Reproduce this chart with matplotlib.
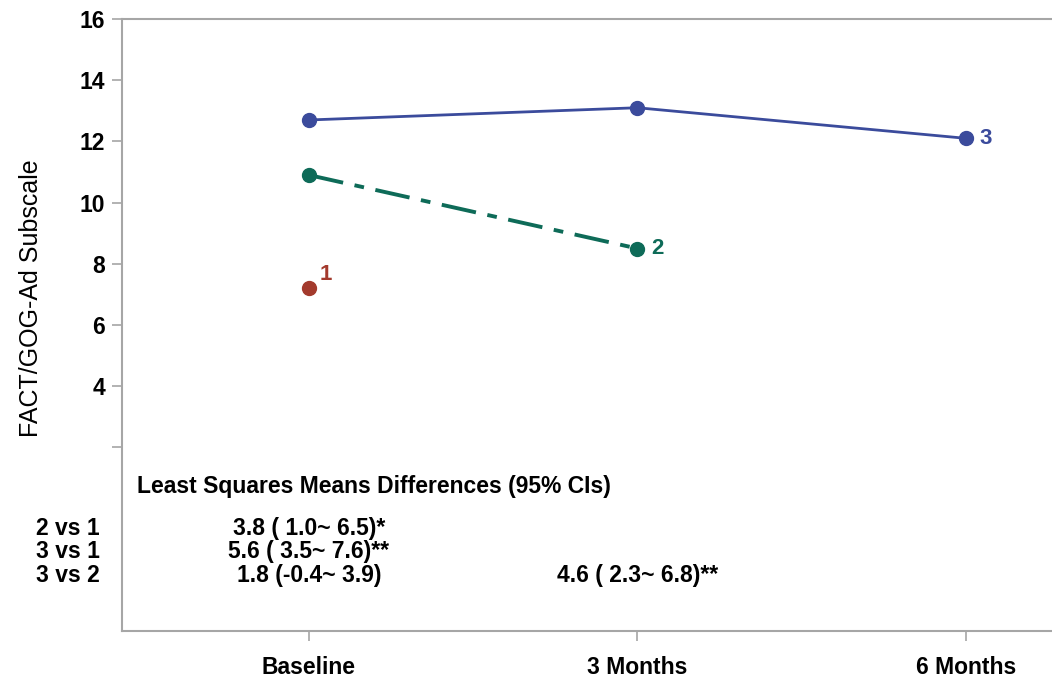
import matplotlib
matplotlib.use('Agg')
import matplotlib.pyplot as plt

# data
visits = ["Baseline", "3 Months", "6 Months"]
group1 = [7.2]
group2 = [10.9, 8.5]
group3 = [12.7, 13.1, 12.1]

comparisons = ["2 vs 1", "3 vs 1", "3 vs 2"]
diff_baseline = ["3.8 ( 1.0~ 6.5)*", "5.6 ( 3.5~ 7.6)**", "1.8 (-0.4~ 3.9)"]
diff_3months = ["", "", "4.6 ( 2.3~ 6.8)**"]
table_title = "Least Squares Means Differences (95% CIs)"

c_red = "#a33a2d"
c_green = "#0e6b58"
c_blue = "#3b4b9c"

plt.rcParams['font.family'] = ["Liberation Sans", "DejaVu Sans"]

fig = plt.figure(figsize=(10.52, 6.83), dpi=100)
ax = fig.add_axes([0.116, 0.0761, 0.884, 0.8961])

x = list(range(len(visits)))
ax.plot(x[:len(group3)], group3, color=c_blue, lw=2, marker='o', ms=10)
ax.plot(x[:len(group2)], group2, color=c_green, lw=2.8, ls=(0, (9, 3, 2.5, 3)),
        marker='o', ms=10)
ax.plot(x[:len(group1)], group1, color=c_red, lw=0, marker='o', ms=10)

# group numbers next to last point
ax.annotate("1", (x[len(group1) - 1], group1[-1]), xytext=(8, 10), textcoords='offset points',
            color=c_red, fontsize=16, fontweight='bold', va='center')
ax.annotate("2", (x[len(group2) - 1], group2[-1]), xytext=(10, 0), textcoords='offset points',
            color=c_green, fontsize=16, fontweight='bold', va='center')
ax.annotate("3", (x[len(group3) - 1], group3[-1]), xytext=(10, 0), textcoords='offset points',
            color=c_blue, fontsize=16, fontweight='bold', va='center')

ax.set_xlim(-0.569, 2.262)
ax.set_ylim(-4, 16)
ax.set_xticks(x)
ax.set_xticklabels(visits, fontsize=16.5, fontweight='bold')
ax.set_yticks([2, 4, 6, 8, 10, 12, 14, 16])
ax.set_yticklabels(["", "4", "6", "8", "10", "12", "14", "16"], fontsize=16.5, fontweight='bold')
ax.set_ylabel("FACT/GOG-Ad Subscale", fontsize=18)
ax.yaxis.set_label_coords(-0.085, 0.544)

for side in ['top', 'left', 'bottom']:
    ax.spines[side].set_color('#a6a6a6')
    ax.spines[side].set_linewidth(1.5)
ax.spines['right'].set_visible(False)
ax.tick_params(colors='#a6a6a6', length=7, width=1.2, labelcolor='black')
ax.tick_params(axis='x', pad=11)
ax.tick_params(axis='y', pad=5)

# differences table inside the plot
ax.text(-0.524, 0.72, table_title, fontsize=16.5, fontweight='bold',
        va='center', ha='left')
row_y = [-0.66, -1.41, -2.2]
for i, lab in enumerate(comparisons):
    ax.text(-0.024, row_y[i], lab, transform=ax.get_yaxis_transform(),
            fontsize=16.5, fontweight='bold', ha='right', va='center')
    ax.text(x[0], row_y[i], diff_baseline[i], fontsize=16.5, fontweight='bold',
            ha='center', va='center')
    if diff_3months[i]:
        ax.text(x[1], row_y[i], diff_3months[i], fontsize=16.5, fontweight='bold',
                ha='center', va='center')

fig.savefig("out.png", dpi=100)
